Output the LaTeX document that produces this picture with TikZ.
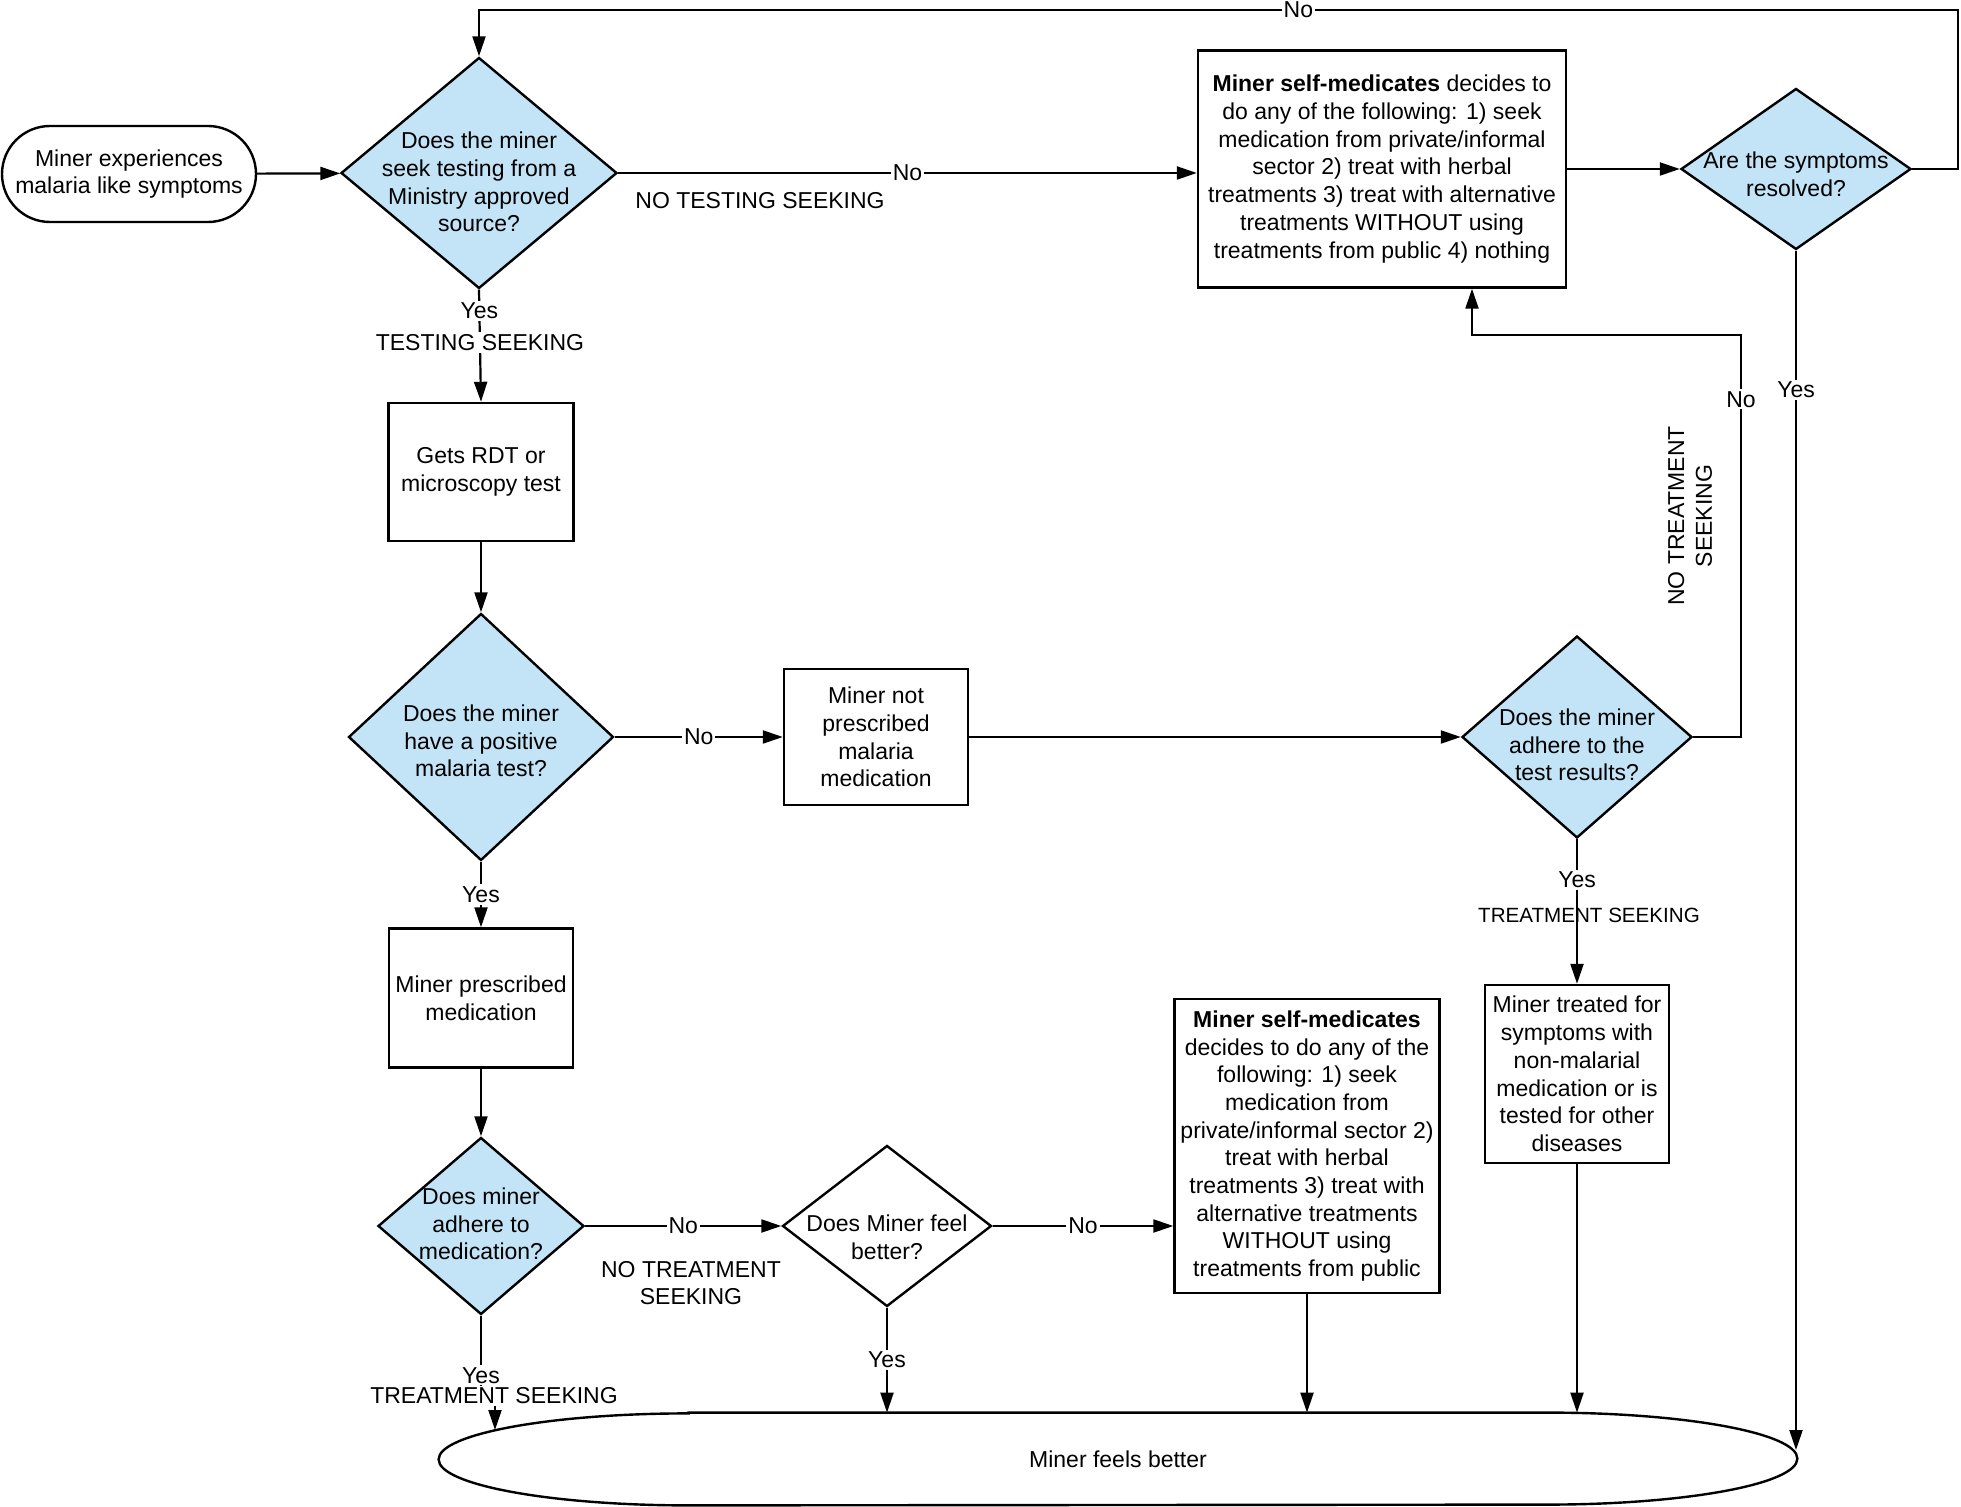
\documentclass[tikz,border=0pt]{standalone}
\usepackage{fontspec}
\setmainfont{Liberation Sans}
\usetikzlibrary{arrows.meta,shapes.geometric}
\definecolor{qblue}{RGB}{194,228,246}

\begin{document}
\begin{tikzpicture}[x=.5pt,y=-.5pt,font=\fontsize{11.5pt}{13.85pt}\selectfont,
box/.style={draw,line width=1.2pt,fill=white,align=center,inner sep=2pt},
dec/.style={diamond,draw,line width=1.2pt,fill=qblue,inner sep=0pt},
arr/.style={-{Triangle[length=10pt,width=6.5pt]},line width=1.1pt},
lbl/.style={fill=white,inner sep=1pt}]
\useasboundingbox (0,0) rectangle (1961,1507);

\node[box,rounded corners=24pt,minimum width=127pt,minimum height=48pt] (s)at(129,174){Miner experiences\\malaria like symptoms};
\node[dec,minimum width=138pt,minimum height=115.5pt,label={[align=center,yshift=-4.5pt]center:{Does the miner\\seek testing from a\\Ministry approved\\source?}}] (q1)at(479,173){};
\node[box,minimum width=184pt,minimum height=118.5pt] (m1)at(1382,169){\textbf{Miner self-medicates} decides to\\do any of the following: 1) seek\\medication from private/informal\\sector 2) treat with herbal\\treatments 3) treat with alternative\\treatments WITHOUT using\\treatments from public 4) nothing};
\node[dec,minimum width=115pt,minimum height=80.5pt,label={[align=center,yshift=-2.5pt]center:{Are the symptoms\\resolved?}}] (q2)at(1796,169){};
\node[box,minimum width=92.5pt,minimum height=69pt] (r)at(481,472){Gets RDT or\\microscopy test};
\node[dec,minimum width=132.5pt,minimum height=123.5pt,label={[align=center,yshift=-2pt]center:{Does the miner\\have a positive\\malaria test?}}] (q3)at(481,737){};
\node[box,minimum width=92pt,minimum height=68pt] (n)at(876,737){Miner not\\prescribed\\malaria\\medication};
\node[dec,minimum width=115pt,minimum height=101pt,label={[align=center,yshift=-4pt]center:{Does the miner\\adhere to the\\test results?}}] (q4)at(1577,737){};
\node[box,minimum width=92pt,minimum height=89pt] (t)at(1577,1074){Miner treated for\\symptoms with\\non-malarial\\medication or is\\tested for other\\diseases};
\node[box,minimum width=92pt,minimum height=69.5pt] (p)at(481,998){Miner prescribed\\medication};
\node[dec,minimum width=103pt,minimum height=88.5pt,label={[align=center,yshift=1pt]center:{Does miner\\adhere to\\medication?}}] (q5)at(481,1226){};
\node[dec,fill=white,minimum width=104.5pt,minimum height=80.5pt,label={[align=center,yshift=-5.5pt]center:{Does Miner feel\\better?}}] (q6)at(887,1226){};
\node[box,minimum width=132.5pt,minimum height=147pt] (m2)at(1307,1146){\textbf{Miner self-medicates}\\decides to do any of the\\following: 1) seek\\medication from\\private/informal sector 2)\\treat with herbal\\treatments 3) treat with\\alternative treatments\\WITHOUT using\\treatments from public};
\node[minimum width=679pt,minimum height=46pt,inner sep=0pt] (fb)at(1118,1459){Miner feels better};
\draw[line width=1.2pt]([xshift=125pt]fb.north west)--([xshift=-125pt]fb.north east)
  arc[start angle=90,end angle=-90,x radius=125pt,y radius=23pt]--([xshift=125pt]fb.south west)
  arc[start angle=270,end angle=90,x radius=125pt,y radius=23pt]--cycle;

\node (a1)at(760,201){NO TESTING SEEKING};
\node[rotate=90,align=center] (a2)at(1690,516){NO TREATMENT\\SEEKING};
\node[font=\fontsize{10.3pt}{12pt}\selectfont] (a3)at(1589,915){TREATMENT SEEKING};
\node[align=center] (a4)at(691,1283){NO TREATMENT\\SEEKING};

\coordinate (c1)at(1958,10);
\coordinate (c2)at(1796,1450);
\coordinate (c3)at(1741,335);
\coordinate (c4)at(495,1430);

\draw[arr](s)--(q1);
\draw[arr](q1.east)--node[lbl]{No}(q1.east-|m1.west);
\draw[arr](m1)--(q2);
\draw[arr](q2.east)-|(c1)-|node[lbl,pos=.223]{No}(q1.north);
\draw[arr](q2.south)--node[lbl,pos=.116]{Yes}(c2);
\draw[arr](q1.south)--node[lbl,pos=.19]{Yes}node[lbl,pos=.47]{TESTING SEEKING}(r.north);
\draw[arr](r)--(q3);
\draw[arr](q3)--node[lbl]{No}(n);
\draw[arr](n)--(q4);
\draw[arr](q4.east)-|node[lbl,pos=.92]{No}(c3)-|([xshift=45pt]m1.south);
\draw[arr](q4.south)--node[lbl,pos=.28]{Yes}(t.north);
\draw[arr](t.south)--(t|-fb.north);
\draw[arr](q3.south)--node[lbl]{Yes}(p.north);
\draw[arr](p)--(q5);
\draw[arr](q5)--node[lbl]{No}(q6);
\draw[arr](q6)--node[lbl]{No}(q6-|m2.west);
\draw[arr](q6.south)--node[lbl]{Yes}(q6|-fb.north);
\draw[arr](m2.south)--(m2|-fb.north);
\draw[arr](q5.south)--node[lbl,pos=.7]{Yes}++(0,85)-|(c4);
\node[lbl] (a5)at(494,1396){TREATMENT SEEKING};
\end{tikzpicture}
\end{document}
